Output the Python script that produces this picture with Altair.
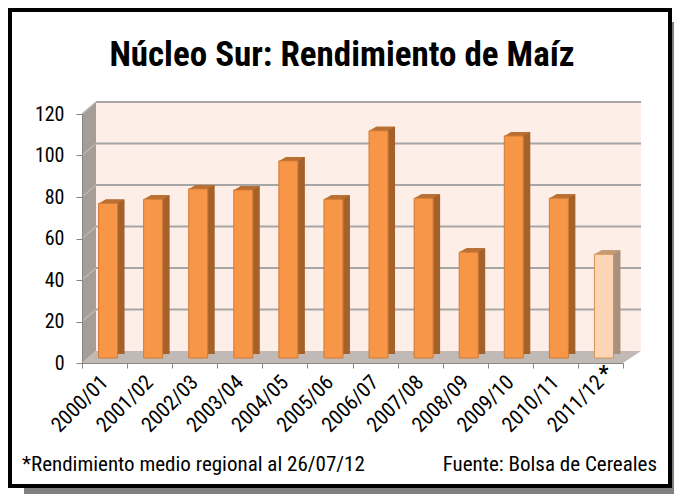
import altair as alt
import pandas as pd

# ---------------- data ----------------
temporadas = ["2000/01", "2001/02", "2002/03", "2003/04", "2004/05", "2005/06",
              "2006/07", "2007/08", "2008/09", "2009/10", "2010/11", "2011/12"]
rendimiento = [74.5, 76.5, 81.5, 81, 95, 76.5, 109.5, 77, 51, 107, 77, 50]
estimado = [False] * 11 + [True]
ticks_y = [0, 20, 40, 60, 80, 100, 120]
titulo = "Núcleo Sur: Rendimiento de Maíz"
nota = "*Rendimiento medio regional al 26/07/12"
fuente = "Fuente: Bolsa de Cereales"

df = pd.DataFrame({"temporada": temporadas, "rendimiento": rendimiento, "estimado": estimado})
grid_df = pd.DataFrame({"v": ticks_y})
one = pd.DataFrame({"k": [0]})

# ---------------- layout / style ----------------
W, H = 541, 249
PAD = {"left": 74, "top": 106, "right": 51, "bottom": 131}
FONT = "'Liberation Sans Narrow', 'Arial Narrow', 'Roboto Condensed', 'Open Sans', sans-serif"
DX, DY = 14, -12  # depth of the 3D box

xs = alt.Scale(domain=temporadas, paddingInner=0, paddingOuter=0)
ys = alt.Scale(domain=[0, 120], nice=False, zero=True)
x_axis = alt.Axis(labelAngle=315, labelAlign="right", labelBaseline="middle",
                  labelFont=FONT, labelFontSize=21, labelColor="black",
                  tickBand="extent", tickSize=5, tickColor="#868686",
                  domainColor="#868686", labelPadding=11, title=None, zindex=1)
y_axis = alt.Axis(values=ticks_y, labelFont=FONT, labelFontSize=20, labelColor="black",
                  tickSize=6, tickColor="#868686", domainColor="#868686",
                  labelPadding=12, grid=False, title=None, zindex=1)
is_est = alt.datum.estimado == True


def cond(a, b):
    return alt.condition(is_est, alt.value(a), alt.value(b))


def X():
    return alt.X("temporada:N", scale=xs, axis=x_axis, sort=temporadas, title=None)


def Yf(field):
    return alt.Y(field, scale=ys, axis=y_axis, title=None)


def Yd(v):
    return alt.YDatum(v, scale=ys, axis=y_axis, title=None)


# shadow + frame
shadow = alt.Chart(one).mark_rect(color="#808080").encode(
    x=alt.value(-58), x2=alt.value(600), y=alt.value(-92), y2=alt.value(390))
frame = alt.Chart(one).mark_rect(fill="white", stroke="black", strokeWidth=4).encode(
    x=alt.value(-72), x2=alt.value(588), y=alt.value(-104), y2=alt.value(372))

title = alt.Chart(one).mark_text(text=titulo, font=FONT, fontSize=35, fontWeight="bold",
                                 align="center", baseline="alphabetic", color="black").encode(
    x=alt.value(260), y=alt.value(-48))

# back wall
wall = alt.Chart(one).mark_rect(fill="#FDEFE7", yOffset=DY, y2Offset=DY).encode(
    x=alt.value(DX), x2=alt.value(W + 18), y=Yd(120), y2=alt.Y2Datum(0))

grid = alt.Chart(grid_df).transform_filter(alt.datum.v > 0).mark_rule(
    color="#A6A6A6", strokeWidth=2, yOffset=DY).encode(
    x=alt.value(DX), x2=alt.value(W + 18), y=Yf("v:Q"))

left_wall = alt.Chart(one).mark_point(
    shape="M0,0 L0,-249 L14,-261 L14,-12 Z", size=4, filled=True, opacity=1,
    color="#A59D98", strokeWidth=0).encode(x=alt.value(0), y=Yd(0))

stubs = alt.Chart(grid_df).transform_filter(alt.datum.v > 0).mark_rule(
    color="#BDB6B2", strokeWidth=1.5, y2Offset=DY).encode(
    x=alt.value(0), x2=alt.value(DX), y=Yf("v:Q"), y2="v:Q")

floor = alt.Chart(one).mark_point(
    shape="M0,0 L541,0 L559,-12 L14,-12 Z", size=4, filled=True, opacity=1,
    color="#C0B9B5", strokeWidth=0).encode(x=alt.value(0), y=Yd(0))

# 3D bars
side = alt.Chart(df).mark_bar(size=19, xOffset=10.5, yOffset=-9, y2Offset=-9).encode(
    x=X(), y=Yf("rendimiento:Q"), color=cond("#A8907C", "#A4612A"))

top = alt.Chart(df).mark_point(
    shape="M-9.5,0 L-2.5,-4 L16.5,-4 L9.5,0 Z", size=4, filled=True, opacity=1,
    strokeWidth=0, xOffset=3.5, yOffset=-5).encode(
    x=X(), y=Yf("rendimiento:Q"), color=cond("#C69C76", "#B96F31"))

front = alt.Chart(df).mark_bar(size=19, xOffset=3.5, yOffset=-5, y2Offset=-5, strokeWidth=1).encode(
    x=X(), y=Yf("rendimiento:Q"),
    color=cond("#FCD5B5", "#F79646"),
    stroke=cond("#D8934F", "#D07A36"))

star = alt.Chart(df).transform_filter(is_est).mark_text(
    text="*", font=FONT, fontSize=22, fontWeight="bold", color="black",
    baseline="middle", dx=3, dy=11).encode(x=X(), y=Yd(0))

note = alt.Chart(one).mark_text(text=nota, font=FONT, fontSize=21, align="left",
                                baseline="alphabetic", color="black").encode(
    x=alt.value(-60), y=alt.value(357))
src = alt.Chart(one).mark_text(text=fuente, font=FONT, fontSize=21, align="right",
                               baseline="alphabetic", color="black").encode(
    x=alt.value(575), y=alt.value(357))

chart = alt.layer(shadow, frame, title, wall, grid, left_wall, stubs, floor,
                  side, top, front, star, note, src).properties(
    width=W, height=H, autosize=alt.AutoSizeParams(type="none"), padding=PAD,
    background="white").configure_view(strokeWidth=0)

chart.save("out.html", embed_options={"renderer": "svg", "actions": False})
